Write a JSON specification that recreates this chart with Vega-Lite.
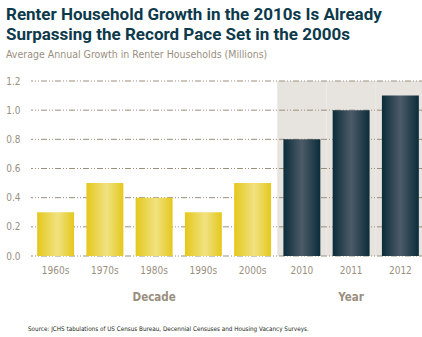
{
  "$schema": "https://vega.github.io/schema/vega-lite/v6.json",
  "width": 394,
  "height": 175,
  "autosize": {"type": "none"},
  "padding": {"left": 31, "top": 81, "right": 0, "bottom": 81},
  "background": "white",
  "config": {
    "view": {"stroke": null},
    "font": "Liberation Sans Narrow, DejaVu Sans Condensed, sans-serif"
  },
  "title": {
    "text": ["Renter Household Growth in the 2010s Is Already", "Surpassing the Record Pace Set in the 2000s"],
    "subtitle": "Average Annual Growth in Renter Households (Millions)",
    "anchor": "start",
    "frame": "group",
    "dx": -25,
    "offset": 15,
    "font": "Roboto, sans-serif",
    "fontSize": 17,
    "fontWeight": "bold",
    "color": "#0d3a4b",
    "lineHeight": 20,
    "subtitleFont": "Liberation Sans Narrow, DejaVu Sans Condensed, sans-serif",
    "subtitleFontSize": 10.5,
    "subtitleColor": "#9a8f7f",
    "subtitlePadding": 6
  },
  "datasets": {
    "bars": [
      {"period": "1960s", "growth": 0.3, "kind": "Decade"},
      {"period": "1970s", "growth": 0.5, "kind": "Decade"},
      {"period": "1980s", "growth": 0.4, "kind": "Decade"},
      {"period": "1990s", "growth": 0.3, "kind": "Decade"},
      {"period": "2000s", "growth": 0.5, "kind": "Decade"},
      {"period": "2010", "growth": 0.8, "kind": "Year"},
      {"period": "2011", "growth": 1.0, "kind": "Year"},
      {"period": "2012", "growth": 1.1, "kind": "Year"}
    ],
    "grid": [{"v": 0}, {"v": 0.2}, {"v": 0.4}, {"v": 0.6}, {"v": 0.8}, {"v": 1.0}, {"v": 1.2}],
    "groups": [
      {"period": "1980s", "label": "Decade"},
      {"period": "2011", "label": "Year"}
    ],
    "source": [
      {"period": "1960s", "label": "Source: JCHS tabulations of US Census Bureau, Decennial Censuses and Housing Vacancy Surveys."}
    ]
  },
  "layer": [
    {
      "data": {"name": "bars"},
      "transform": [{"filter": "datum.kind === 'Year'"}],
      "mark": {"type": "bar", "color": "#e7e3df", "width": {"band": 1}},
      "encoding": {
        "x": {
          "field": "period", "type": "nominal", "sort": null,
          "scale": {"domain": ["1960s", "1970s", "1980s", "1990s", "2000s", "2010", "2011", "2012"], "paddingInner": 0, "paddingOuter": 0},
          "axis": {"title": null, "domain": false, "ticks": false, "tickSize": 0, "labelPadding": 9, "labelAngle": 0, "labelColor": "#9a8f7f", "labelFontSize": 10}
        },
        "y": {
          "datum": 1.2, "type": "quantitative", "scale": {"domain": [0, 1.2]},
          "axis": {"title": null, "domain": false, "ticks": false, "tickSize": 0, "grid": false, "labelPadding": 11, "values": [0, 0.2, 0.4, 0.6, 0.8, 1.0, 1.2], "tickCount": 7, "labelOverlap": false, "format": ".1f", "labelColor": "#9a8f7f", "labelFontSize": 10}
        },
        "y2": {"datum": 0}
      }
    },
    {
      "data": {"name": "grid"},
      "mark": {"type": "rule", "color": "#9b8f7d", "strokeWidth": 1, "strokeDash": [6, 2, 1, 2, 1, 2]},
      "encoding": {
        "y": {"field": "v", "type": "quantitative", "title": null}
      }
    },
    {
      "data": {"name": "bars"},
      "transform": [{"filter": "datum.kind === 'Decade'"}],
      "mark": {
        "type": "bar",
        "width": {"band": 0.75},
        "color": {
          "gradient": "linear", "x1": 0, "x2": 1, "y1": 0, "y2": 0,
          "stops": [
            {"offset": 0, "color": "#e5c81c"},
            {"offset": 0.55, "color": "#f0e281"},
            {"offset": 1, "color": "#e5c81c"}
          ]
        }
      },
      "encoding": {
        "x": {"field": "period", "type": "nominal", "sort": null, "title": null},
        "y": {"field": "growth", "type": "quantitative", "title": null}
      }
    },
    {
      "data": {"name": "bars"},
      "transform": [{"filter": "datum.kind === 'Year'"}],
      "mark": {
        "type": "bar",
        "width": {"band": 0.75},
        "color": {
          "gradient": "linear", "x1": 0, "x2": 1, "y1": 0, "y2": 0,
          "stops": [
            {"offset": 0, "color": "#0a2c3a"},
            {"offset": 0.5, "color": "#4e5b68"},
            {"offset": 1, "color": "#0a2c3a"}
          ]
        }
      },
      "encoding": {
        "x": {"field": "period", "type": "nominal", "sort": null, "title": null},
        "y": {"field": "growth", "type": "quantitative", "title": null}
      }
    },
    {
      "data": {"name": "groups"},
      "mark": {"type": "text", "fontWeight": "bold", "fontSize": 11.5, "color": "#9a8f7f", "baseline": "middle", "dy": 42},
      "encoding": {
        "x": {"field": "period", "type": "nominal", "sort": null, "title": null},
        "y": {"datum": 0, "type": "quantitative"},
        "text": {"field": "label"}
      }
    },
    {
      "data": {"name": "source"},
      "mark": {"type": "text", "fontSize": 6.3, "color": "#231f20", "align": "left", "baseline": "middle", "dy": 73, "dx": -3},
      "encoding": {
        "x": {"field": "period", "type": "nominal", "sort": null, "bandPosition": 0, "title": null},
        "y": {"datum": 0, "type": "quantitative"},
        "text": {"field": "label"}
      }
    }
  ]
}
